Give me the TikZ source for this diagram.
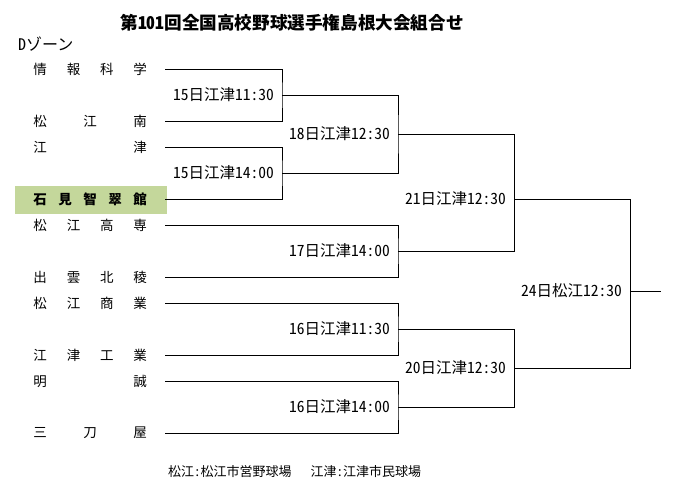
\documentclass[tikz,border=0pt]{standalone}
\usepackage{fontspec}
\setmainfont{Noto Sans CJK JP}
\newfontfamily\halfwidth[RawFeature=+hwid]{Noto Sans CJK JP}
\usepackage{xcolor}
\usetikzlibrary{positioning}
\definecolor{koshien}{HTML}{C4D79B}
\tikzset{team/.style={anchor=west,inner sep=0pt,font=\fontsize{13.5}{13.5}\selectfont},
 game/.style={inner sep=0pt,font=\halfwidth\fontsize{15.5}{15.5}\selectfont},
 bracket/.style={draw=black,line width=0.9pt}}

\begin{document}
\begin{tikzpicture}[x=1pt,y=-1pt]
 \path[use as bounding box] (0,0) rectangle (676,495);
\filldraw[fill=koshien, draw=koshien] (15,186) rectangle (166,213);

\node[font=\halfwidth\fontsize{17.6}{17.6}\selectfont\bfseries] (title) at (292,23) {第101回全国高校野球選手権島根大会組合せ};
\node[team,font=\halfwidth\fontsize{16}{16}\selectfont] (zone) at (18,44) {Dゾーン};

\foreach \n/\y/\s in {t1/69/{情\hfil 報\hfil 科\hfil 学}, t2/121/{松\hfil 江\hfil 南}, t3/147/{江\hfil 津},
 t5/225/{松\hfil 江\hfil 高\hfil 専}, t6/277/{出\hfil 雲\hfil 北\hfil 稜}, t7/303/{松\hfil 江\hfil 商\hfil 業},
 t8/355/{江\hfil 津\hfil 工\hfil 業}, t9/381/{明\hfil 誠}, t10/433/{三\hfil 刀\hfil 屋}}
{
	\coordinate (\n) at (165,\y);
	\node[team] (\n name) at (33.25,\y) {\hbox to 113.5pt{\s}};
}
\coordinate (t4) at (165,199);
\node[team,font=\fontsize{13.5}{13.5}\selectfont\bfseries] (t4name) at (33.25,199) {\hbox to 113.5pt{石\hfil 見\hfil 智\hfil 翠\hfil 館}};

\coordinate (m1) at (282,95);
\coordinate (m2) at (282,173);
\coordinate (m3) at (398,134);
\coordinate (m4) at (398,251);
\coordinate (m5) at (398,329);
\coordinate (m6) at (398,407);
\coordinate (m7) at (514,199);
\coordinate (m8) at (514,368);
\coordinate (m9) at (630,291);
\coordinate (win) at (661,291);

\draw[bracket] (t1) -| (m1) |- (t2);
\draw[bracket] (t3) -| (m2) |- (t4);
\draw[bracket] (t5) -| (m4) |- (t6);
\draw[bracket] (t7) -| (m5) |- (t8);
\draw[bracket] (t9) -| (m6) |- (t10);
\draw[bracket] (m1) -| (m3) |- (m2);
\draw[bracket] (m3) -| (m7) |- (m4);
\draw[bracket] (m5) -| (m8) |- (m6);
\draw[bracket] (m7) -| (m9) |- (m8);
\draw[bracket] (m9) -- (win);

\node[game,left=8pt of m1] (g1) {15日江津11:30};
\node[game,left=8pt of m2] (g2) {15日江津14:00};
\node[game,left=8pt of m3] (g3) {18日江津12:30};
\node[game,left=8pt of m4] (g4) {17日江津14:00};
\node[game,left=8pt of m5] (g5) {16日江津11:30};
\node[game,left=8pt of m6] (g6) {16日江津14:00};
\node[game,left=8pt of m7] (g7) {21日江津12:30};
\node[game,left=8pt of m8] (g8) {20日江津12:30};
\node[game,left=8pt of m9] (g9) {24日松江12:30};

\node[font=\halfwidth\fontsize{13}{13}\selectfont,anchor=west,inner sep=0pt] (venue) at (168,472) {松江:松江市営野球場\hspace{19pt}江津:江津市民球場};

\end{tikzpicture}
\end{document}
